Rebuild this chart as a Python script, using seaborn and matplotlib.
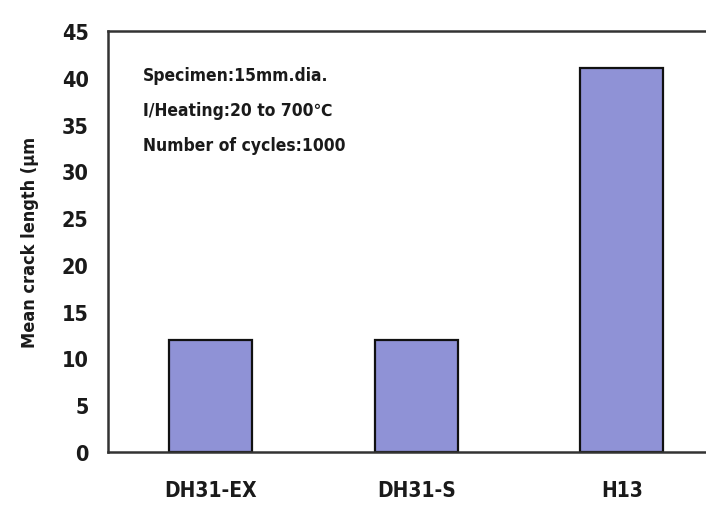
import matplotlib
matplotlib.use("Agg")
import matplotlib.pyplot as plt
import seaborn as sns
import pandas as pd
from matplotlib.ticker import FixedLocator

categories = ["DH31-EX", "DH31-S", "H13"]
values = [12, 12, 41]
y_ticks = [0, 5, 10, 15, 20, 25, 30, 35, 40, 45]
notes = ["Specimen:15mm.dia.", "I/Heating:20 to 700\u2103", "Number of cycles:1000"]
y_label = "Mean crack length (\u03bcm"

sns.set_style("white")
plt.rcParams['font.family'] = ['DejaVu Sans']
plt.rcParams['font.stretch'] = 'condensed'
plt.rcParams['font.weight'] = 'bold'

df = pd.DataFrame({"material": categories, "length": values})

fig = plt.figure(figsize=(7.06, 5.06), dpi=100)
ax = fig.add_axes([108/706, 53/506, 1 - 108/706, 421/506])
sns.barplot(data=df, x="material", y="length", color="#8f92d6", saturation=1,
            width=0.405, edgecolor="#111111", linewidth=1.6, ax=ax)

ax.set_ylim(0, 45)
ax.set_xlim(-0.5, 2.41)
ax.set_yticks(y_ticks)
ax.set_yticklabels([str(t) for t in y_ticks], fontsize=15.5, fontweight='bold', color='#1a1a1a')
ax.set_xticklabels(categories, fontsize=15, fontweight='bold', color='#1a1a1a')
ax.tick_params(axis='y', direction='in', length=7, width=1.2, pad=14, color='#333333')
ax.tick_params(axis='x', which='major', length=0, pad=20)
ax.xaxis.set_minor_locator(FixedLocator([0.5, 1.5]))
ax.tick_params(axis='x', which='minor', direction='in', length=6, width=1.5, color='#333333')
ax.set_xlabel("")
ax.set_ylabel(y_label, fontsize=13, fontweight='bold', color='#1a1a1a', labelpad=16)

for s in ['left', 'bottom', 'top']:
    ax.spines[s].set_visible(True)
    ax.spines[s].set_linewidth(1.8)
    ax.spines[s].set_color('#333333')
ax.spines['right'].set_visible(False)

for i, t in enumerate(notes):
    ax.text(0.058, 0.895 - i * 0.083, t, transform=ax.transAxes,
            fontsize=12.5, fontweight='bold', color='#1a1a1a', va='center', ha='left')

fig.savefig("out.png", dpi=100)
